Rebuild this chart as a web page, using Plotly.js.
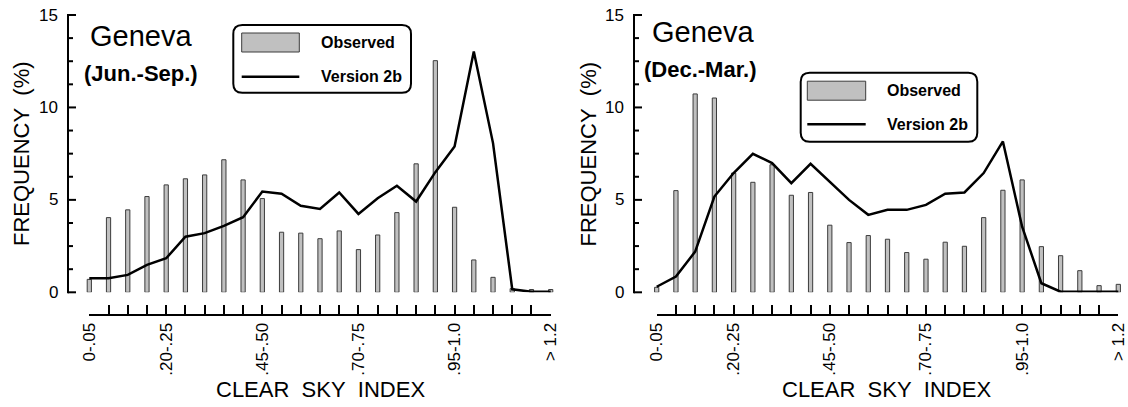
<!DOCTYPE html>
<html>
<head>
<meta charset="utf-8">
<script src="https://cdn.plot.ly/plotly-3.0.1.min.js"></script>
<style>html,body{margin:0;padding:0;background:#fff;}#chart{width:1128px;height:407px;}</style>
</head>
<body>
<div id="chart"></div>
<script>
// ---- data ----
const categories = ['0-.05','.05-.10','.10-.15','.15-.20','.20-.25','.25-.30','.30-.35','.35-.40','.40-.45','.45-.50',
  '.50-.55','.55-.60','.60-.65','.65-.70','.70-.75','.75-.80','.80-.85','.85-.90','.90-.95','.95-1.0',
  '1.0-1.05','1.05-1.10','1.10-1.15','1.15-1.20','> 1.2'];
const tickLabels = ['0-.05','','','','.20-.25','','','','','.45-.50','','','','','.70-.75','','','','','.95-1.0','','','','','> 1.2'];

const summerObserved = [0.70,4.04,4.46,5.18,5.81,6.14,6.35,7.17,6.08,5.07,3.25,3.20,2.90,3.32,2.31,3.10,4.31,6.95,12.53,4.60,1.75,0.81,0.20,0.15,0.15];
const summerModel    = [0.76,0.76,0.94,1.48,1.84,3.01,3.20,3.59,4.06,5.45,5.33,4.68,4.51,5.40,4.24,5.09,5.76,4.91,6.50,7.89,13.03,8.07,0.16,0.03,0.03];

const winterObserved = [0.27,5.50,10.73,10.51,6.45,5.95,6.90,5.25,5.40,3.63,2.69,3.07,2.87,2.15,1.79,2.71,2.49,4.04,5.52,6.08,2.47,1.98,1.17,0.36,0.43];
const winterModel    = [0.30,0.85,2.20,5.18,6.45,7.49,6.99,5.90,6.95,5.95,5.00,4.19,4.46,4.46,4.73,5.33,5.40,6.45,8.16,3.55,0.49,0.03,0.03,0.03,0.03];

const yTickVals = [0,5,10,15];
const yTickText = ['0','5','10','15'];
const yMinorTickVals = [1.25,2.5,3.75,6.25,7.5,8.75,11.25,12.5,13.75];
const panelTitles = ['Geneva','Geneva'];
const panelSeasons = ['(Jun.-Sep.)','(Dec.-Mar.)'];
const legendNames = ['Observed','Version 2b'];
const xTitle = 'CLEAR\u00a0 SKY\u00a0 INDEX';
const yTitle = 'FREQUENCY\u00a0 (%)';

// ---- layout helpers (pixel -> paper) ----
const W = 1128, H = 407;
const fx = p => p / W;
const fy = p => 1 - p / H;
const Y0PX = 292.3, Y15PX = 15;
const yPaper = v => fy(Y0PX - v * (Y0PX - Y15PX) / 15);
const FONT = 'Arial, "Liberation Sans", Helvetica, sans-serif';

const barStyle = {color:'#c0c0c0', line:{color:'#3c3c3c', width:1}};
const lineStyle = {color:'#000', width:2.5};

function panelTraces(obs, mod, xa, xt, ya){
  return [
    {type:'bar', x:categories, y:obs, xaxis:xa, yaxis:ya, width:0.22, marker:barStyle, name:legendNames[0], showlegend:false, hoverinfo:'x+y'},
    {type:'scatter', mode:'lines', x:categories, y:mod, xaxis:xa, yaxis:ya, line:lineStyle, name:legendNames[1], showlegend:false, cliponaxis:false},
    {type:'scatter', mode:'markers', x:categories, y:obs, xaxis:xt, yaxis:ya, marker:{opacity:0, size:1}, hoverinfo:'skip', showlegend:false}
  ];
}

const data = [].concat(
  panelTraces(summerObserved, summerModel, 'x', 'x3', 'y'),
  panelTraces(winterObserved, winterModel, 'x2', 'x4', 'y2')
);

function yAxis(anchor){
  return {
    range:[0,15], domain:[fy(Y0PX), fy(Y15PX)], anchor:anchor, side:'left',
    showticklabels:false, ticks:'', showline:false, showgrid:false, zeroline:false,
    automargin:false, fixedrange:true
  };
}
function xHidden(dom, rng, anchor){
  return {type:'category', domain:dom, range:rng, anchor:anchor, showline:false, showticklabels:false, ticks:'', showgrid:false, zeroline:false, automargin:false, fixedrange:true};
}
function xTicks(dom){
  return {
    type:'category', domain:dom, range:[0,24], anchor:'free', position:fy(315),
    tickmode:'array', tickvals:categories.slice(), ticktext:tickLabels.slice(), tickangle:-90,
    ticks:'inside', ticklen:9, tickwidth:2, tickcolor:'#000',
    showline:true, linewidth:2, linecolor:'#000', showgrid:false, zeroline:false,
    tickfont:{family:FONT, size:17, color:'#000'}, automargin:false, fixedrange:true
  };
}

// y-axis line, tick marks and tick labels (axis decoration) in paper coordinates
function yAxisDecor(xpx){
  const s = [{type:'rect', layer:'above', xref:'paper', yref:'paper', x0:fx(xpx-1), x1:fx(xpx+1), y0:yPaper(yTickVals[0]) - 1/H, y1:yPaper(yTickVals[yTickVals.length-1]) + 1/H, fillcolor:'#000', line:{width:0}}];
  yTickVals.forEach(v => s.push({type:'rect', layer:'above', xref:'paper', yref:'paper', x0:fx(xpx), x1:fx(xpx+8), y0:yPaper(v)-1/H, y1:yPaper(v)+1/H, fillcolor:'#000', line:{width:0}}));
  yMinorTickVals.forEach(v => s.push({type:'rect', layer:'above', xref:'paper', yref:'paper', x0:fx(xpx), x1:fx(xpx+5), y0:yPaper(v)-1/H, y1:yPaper(v)+1/H, fillcolor:'#000', line:{width:0}}));
  return s;
}
function yTickAnnotations(xpx){
  return yTickVals.map((v,i) => ({xref:'paper', yref:'paper', x:fx(xpx), y:yPaper(v), xanchor:'right', yanchor:'middle', text:yTickText[i], showarrow:false, font:{family:FONT, size:17, color:'#000'}}));
}

function roundRect(x0,y0,x1,y1,r){
  const rx=r/W, ry=r/H;
  const X0=fx(x0), X1=fx(x1), Y0=fy(y0), Y1=fy(y1);
  return `M ${X0+rx},${Y0} L ${X1-rx},${Y0} Q ${X1},${Y0} ${X1},${Y0-ry} L ${X1},${Y1+ry} Q ${X1},${Y1} ${X1-rx},${Y1} L ${X0+rx},${Y1} Q ${X0},${Y1} ${X0},${Y1+ry} L ${X0},${Y0-ry} Q ${X0},${Y0} ${X0+rx},${Y0} Z`;
}

function legendParts(box, sw, textX, y1, y2){
  const shapes = [
    {type:'path', xref:'paper', yref:'paper', path:roundRect(box[0],box[1],box[2],box[3],9), line:{color:'#000', width:2}, fillcolor:'rgba(255,255,255,0)'},
    {type:'rect', xref:'paper', yref:'paper', x0:fx(sw[0]), x1:fx(sw[1]), y0:fy(y1-9.5), y1:fy(y1+9.5), fillcolor:'#c0c0c0', line:{color:'#3c3c3c', width:1}},
    {type:'line', xref:'paper', yref:'paper', x0:fx(sw[0]), x1:fx(sw[1]), y0:fy(y2), y1:fy(y2), line:{color:'#000', width:2.5}}
  ];
  const ann = [
    {xref:'paper', yref:'paper', x:fx(textX), y:fy(y1), xanchor:'left', yanchor:'middle', text:'<b>'+legendNames[0]+'</b>', showarrow:false, font:{family:FONT, size:16, color:'#000'}},
    {xref:'paper', yref:'paper', x:fx(textX), y:fy(y2), xanchor:'left', yanchor:'middle', text:'<b>'+legendNames[1]+'</b>', showarrow:false, font:{family:FONT, size:16, color:'#000'}}
  ];
  return {shapes, ann};
}

const legL = legendParts([233.3,25,411,92.7],[241.7,299.3],319,42.5,76.7);
const legR = legendParts([800.7,72.7,977.3,141.7],[807.3,865.7],885,90.7,124.3);

const annotations = [
  {xref:'paper', yref:'paper', x:fx(88), y:fy(35.5), xanchor:'left', yanchor:'middle', text:panelTitles[0], showarrow:false, font:{family:FONT, size:29, color:'#000'}},
  {xref:'paper', yref:'paper', x:fx(82), y:fy(73), xanchor:'left', yanchor:'middle', text:'<b>'+panelSeasons[0]+'</b>', showarrow:false, font:{family:FONT, size:22, color:'#000'}},
  {xref:'paper', yref:'paper', x:fx(650), y:fy(32), xanchor:'left', yanchor:'middle', text:panelTitles[1], showarrow:false, font:{family:FONT, size:29, color:'#000'}},
  {xref:'paper', yref:'paper', x:fx(642), y:fy(69.5), xanchor:'left', yanchor:'middle', text:'<b>'+panelSeasons[1]+'</b>', showarrow:false, font:{family:FONT, size:22, color:'#000'}},
  {xref:'paper', yref:'paper', x:fx(320), y:fy(389), xanchor:'center', yanchor:'middle', text:xTitle, showarrow:false, font:{family:FONT, size:22, color:'#000'}},
  {xref:'paper', yref:'paper', x:fx(886.5), y:fy(389), xanchor:'center', yanchor:'middle', text:xTitle, showarrow:false, font:{family:FONT, size:22, color:'#000'}},
  {xref:'paper', yref:'paper', x:fx(21), y:fy(154), xanchor:'center', yanchor:'middle', text:yTitle, textangle:-90, showarrow:false, font:{family:FONT, size:22, color:'#000'}},
  {xref:'paper', yref:'paper', x:fx(587.5), y:fy(154), xanchor:'center', yanchor:'middle', text:yTitle, textangle:-90, showarrow:false, font:{family:FONT, size:22, color:'#000'}}
].concat(legL.ann, legR.ann, yTickAnnotations(60), yTickAnnotations(626));

const layout = {
  width:W, height:H, margin:{l:0,r:0,t:0,b:0,pad:0},
  paper_bgcolor:'#fff', plot_bgcolor:'rgba(0,0,0,0)',
  showlegend:false, bargap:0,
  font:{family:FONT, color:'#000'},
  xaxis: xHidden([fx(68), fx(570)], [-1.108, 25.004], 'y'),
  xaxis2: xHidden([fx(634), fx(1126)], [-1.180, 24.400], 'y2'),
  xaxis3: xTicks([fx(89.3), fx(550.7)]),
  xaxis4: xTicks([fx(656.7), fx(1118.3)]),
  yaxis: yAxis('x'),
  yaxis2: yAxis('x2'),
  shapes: legL.shapes.concat(legR.shapes, yAxisDecor(68), yAxisDecor(634)),
  annotations: annotations
};

Plotly.newPlot('chart', data, layout, {displayModeBar:false, staticPlot:true});
</script>
</body>
</html>
